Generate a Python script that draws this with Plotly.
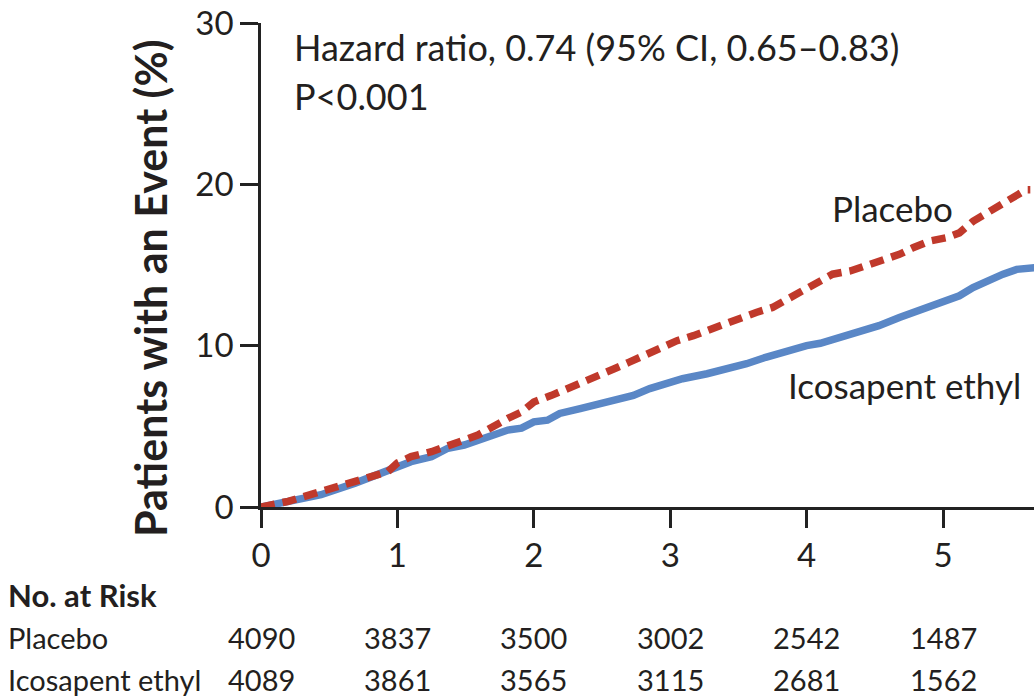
import plotly.graph_objects as go

# ---- data ----
placebo_years = [0, 0.20, 0.44, 0.69, 0.93, 1.00, 1.10, 1.25, 1.37, 1.49, 1.59, 1.71, 1.81, 1.91,
                 2.00, 2.13, 2.19, 2.36, 2.48, 2.59, 2.70, 2.83, 2.92, 3.05, 3.17, 3.27, 3.39,
                 3.51, 3.63, 3.75, 3.86, 3.97, 4.07, 4.19, 4.32, 4.44, 4.56, 4.68, 4.78, 4.90,
                 5.02, 5.12, 5.22, 5.32, 5.44, 5.54, 5.61, 5.64]
placebo_pct = [0, 0.35, 0.96, 1.58, 2.19, 2.73, 3.12, 3.43, 3.84, 4.15, 4.46, 5.07, 5.49, 5.89,
               6.51, 6.92, 7.13, 7.64, 8.16, 8.57, 8.98, 9.49, 9.90, 10.31, 10.62, 10.93, 11.34,
               11.75, 12.06, 12.37, 12.89, 13.29, 13.81, 14.43, 14.63, 14.94, 15.35, 15.66, 16.07, 16.48,
               16.68, 16.99, 17.71, 18.22, 18.74, 19.36, 19.67, 19.67]

icosa_years = [0, 0.20, 0.44, 0.69, 0.93, 1.00, 1.10, 1.25, 1.37, 1.49, 1.59, 1.71, 1.81, 1.91,
               2.00, 2.10, 2.19, 2.34, 2.53, 2.73, 2.85, 2.95, 3.09, 3.27, 3.44, 3.56, 3.70,
               3.90, 4.00, 4.10, 4.24, 4.39, 4.53, 4.68, 4.83, 4.97, 5.12, 5.22, 5.32, 5.44,
               5.54, 5.63, 5.67]
icosa_pct = [0, 0.35, 0.76, 1.48, 2.19, 2.40, 2.81, 3.12, 3.64, 3.84, 4.15, 4.46, 4.77, 4.89,
             5.28, 5.38, 5.80, 6.10, 6.51, 6.92, 7.34, 7.64, 7.95, 8.26, 8.57, 8.88, 9.28,
             9.80, 10.00, 10.15, 10.52, 10.83, 11.24, 11.75, 12.17, 12.68, 13.09, 13.60, 14.01, 14.43,
             14.73, 14.83, 14.83]

x_ticks = [0, 1, 2, 3, 4, 5]
y_ticks = [0, 10, 20, 30]

risk_years = [0, 1, 2, 3, 4, 5]
risk_placebo = [4090, 3837, 3500, 3002, 2542, 1487]
risk_icosa = [4089, 3861, 3565, 3115, 2681, 1562]

FONT = "Lato"
TXT = "#231f20"
RED = "#c0392b"
BLUE = "#5a87c6"

fig = go.Figure()
fig.add_trace(go.Scatter(x=icosa_years, y=icosa_pct, mode="lines", line_shape="linear",
                         line=dict(color=BLUE, width=7.5), hoverinfo="skip", name="Icosapent ethyl"))
fig.add_trace(go.Scatter(x=placebo_years, y=placebo_pct, mode="lines", line_shape="linear",
                         line=dict(color=RED, width=7.5, dash="14px,8px"), hoverinfo="skip", name="Placebo"))

W, H = 1036, 697
ML, MR, MT, MB = 261, 2, 21, 190
PW = W - ML - MR
PH = H - MT - MB


def px_to_paper_x(px):
    return (px - ML) / PW


def px_to_paper_y(py):
    return (H - MB - py) / PH


ann = []
ann.append(dict(text="<b>Patients with an Event (%)</b>", x=px_to_paper_x(151), y=px_to_paper_y(288),
                xref="paper", yref="paper", xanchor="center", yanchor="middle", showarrow=False,
                textangle=-90, font=dict(family=FONT, size=43, color=TXT)))
ann.append(dict(text="Hazard ratio, 0.74 (95% CI, 0.65\u20130.83)", x=px_to_paper_x(292), y=px_to_paper_y(45),
                xref="paper", yref="paper", xanchor="left", yanchor="middle", showarrow=False,
                font=dict(family=FONT, size=36, color=TXT)))
ann.append(dict(text="P<0.001", x=px_to_paper_x(292), y=px_to_paper_y(94),
                xref="paper", yref="paper", xanchor="left", yanchor="middle", showarrow=False,
                font=dict(family=FONT, size=36, color=TXT)))
ann.append(dict(text="Placebo", x=px_to_paper_x(830), y=px_to_paper_y(207),
                xref="paper", yref="paper", xanchor="left", yanchor="middle", showarrow=False,
                font=dict(family=FONT, size=35, color=TXT)))
ann.append(dict(text="Icosapent ethyl", x=px_to_paper_x(786), y=px_to_paper_y(384),
                xref="paper", yref="paper", xanchor="left", yanchor="middle", showarrow=False,
                font=dict(family=FONT, size=35, color=TXT)))
ann.append(dict(text="<b>No. at Risk</b>", x=px_to_paper_x(6), y=px_to_paper_y(595),
                xref="paper", yref="paper", xanchor="left", yanchor="middle", showarrow=False,
                font=dict(family=FONT, size=31, color=TXT)))
ann.append(dict(text="Placebo", x=px_to_paper_x(6), y=px_to_paper_y(638),
                xref="paper", yref="paper", xanchor="left", yanchor="middle", showarrow=False,
                font=dict(family=FONT, size=29, color=TXT)))
ann.append(dict(text="Icosapent ethyl", x=px_to_paper_x(6), y=px_to_paper_y(680),
                xref="paper", yref="paper", xanchor="left", yanchor="middle", showarrow=False,
                font=dict(family=FONT, size=29, color=TXT)))
for t, n in zip(risk_years, risk_placebo):
    ann.append(dict(text=str(n), x=t, y=px_to_paper_y(638), xref="x", yref="paper",
                    xanchor="center", yanchor="middle", showarrow=False,
                    font=dict(family=FONT, size=29, color=TXT)))
for t, n in zip(risk_years, risk_icosa):
    ann.append(dict(text=str(n), x=t, y=px_to_paper_y(680), xref="x", yref="paper",
                    xanchor="center", yanchor="middle", showarrow=False,
                    font=dict(family=FONT, size=29, color=TXT)))

fig.update_layout(
    width=W, height=H,
    margin=dict(l=ML, r=MR, t=MT, b=MB, pad=0),
    paper_bgcolor="white", plot_bgcolor="white",
    showlegend=False,
    annotations=ann,
    xaxis=dict(range=[0, 5.667], tickvals=x_ticks, ticktext=[str(v) for v in x_ticks],
               showline=True, linecolor="#222", linewidth=2.5, ticks="outside", ticklen=18,
               tickwidth=2.5, tickcolor="#222", showgrid=False, zeroline=False,
               ticklabeloverflow="allow",
               tickfont=dict(family=FONT, size=33, color=TXT), fixedrange=True),
    yaxis=dict(range=[0, 30], tickvals=y_ticks, ticktext=[str(v) for v in y_ticks],
               showline=True, linecolor="#222", linewidth=2.5, ticks="outside", ticklen=18,
               tickwidth=2.5, tickcolor="#222", showgrid=False, zeroline=False,
               ticklabeloverflow="allow",
               tickfont=dict(family=FONT, size=33, color=TXT), fixedrange=True),
)

fig.write_html("out.html")
